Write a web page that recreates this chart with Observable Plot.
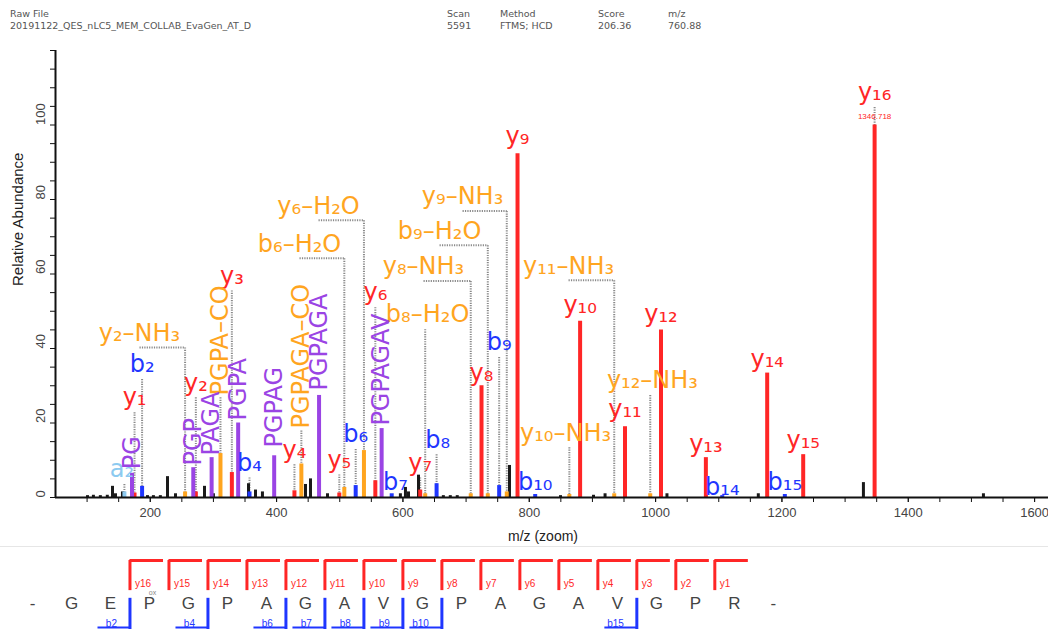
<!DOCTYPE html>
<html><head><meta charset="utf-8">
<script src="https://cdn.jsdelivr.net/npm/d3@7"></script>
<script src="https://cdn.jsdelivr.net/npm/@observablehq/plot@0.6"></script>
<style>
body{margin:0;background:#fff;}
#wrap{position:relative;width:1048px;height:629px;overflow:hidden;background:#fff;}
#wrap svg{display:block;}
.hdr{position:absolute;top:8px;font-family:"DejaVu Sans",sans-serif;font-size:9.5px;color:#555;line-height:12px;white-space:nowrap;}
.sep{position:absolute;left:0;top:546px;width:1048px;height:1px;background:#e6e6e6;}
</style></head><body><div id="wrap"></div>
<script>
// ---------- header ----------
const headerLabels = ["Raw File", "Scan", "Method", "Score", "m/z"];
const headerValues = ["20191122_QES_nLC5_MEM_COLLAB_EvaGen_AT_D", "5591", "FTMS; HCD", "206.36", "760.88"];

// ---------- y ions ----------
const yIonNames = ["y1","y2","y3","y4","y5","y6","y7","y8","y9","y10","y11","y12","y13","y14","y15","y16"];
const yIonMz    = [175.12,272.17,329.19,428.26,499.30,556.32,627.36,724.41,781.43,880.50,951.54,1008.56,1079.60,1176.65,1233.67,1346.72];
const yIonInt   = [1.2,1.5,6.7,1.8,1.2,4.5,2.0,30,92.3,47.3,19,45,10.7,33.4,11.5,100];
const yLabelInt = [24.7,28.7,57.4,10.7,8.0,52.9,7.2,31.4,95,49.4,21.7,47,12.3,34.9,13.2,106.6];

// ---------- b ions ----------
const bIonNames = ["b2","b4","b6","b7","b8","b9","b10","b14","b15"];
const bIonMz    = [187.07,357.14,525.23,582.25,653.29,752.36,809.38,1105.53,1204.60];
const bIonInt   = [3.0,1.5,3.2,1.0,3.7,3.2,0.8,0.5,0.8];
const bLabelInt = [33.6,7.2,14.8,1.9,13.4,39.5,1.9,0.8,1.9];
const bLabelMz  = [187.07,357.14,525.23,588,655,752.36,809.38,1105.53,1204.60];

// ---------- a ion ----------
const aIonNames = ["a2"];
const aIonMz = [159.08];
const aIonInt = [1.5];
const aLabelInt = [5.4];

// ---------- neutral losses ----------
const lossNames    = ["y2-NH3","b6-H2O","y6-H2O","b8-H2O","y8-NH3","b9-H2O","y9-NH3","y10-NH3","y11-NH3","y12-NH3"];
const lossMz       = [255.14,507.22,538.31,635.28,707.38,734.35,764.40,863.47,934.51,991.53];
const lossInt      = [1.5,2.7,12.6,1.0,1.0,1.0,1.5,0.8,1.0,1.0];
const lossLabelMz  = [183.0,436.3,466.4,639.0,632.6,658.0,694.4,857.4,862.2,995.0];
const lossLabelInt = [42.1,66.0,76.2,47.0,59.9,69.5,78.7,15.3,60.1,29.3];

// ---------- internal fragments (vertical labels) ----------
const internalNames    = ["PG","PGP","PAGA","PGPA","PGPAG","PGPAGA","PGPAGAV"];
const internalMz       = [171.08,268.13,297.16,339.17,396.19,467.23,566.30];
const internalInt      = [6.5,8.0,10.7,20.0,11.2,27.4,18.5];
const internalLabelInt = [7.6,8.6,11.3,20.7,13.4,28.7,19.3];

const internalLossNames    = ["PGPA-CO","PGPAGA-CO"];
const internalLossMz       = [311.17,439.23];
const internalLossInt      = [11.8,9.0];
const internalLossLabelInt = [27.4,18.5];

// ---------- unassigned peaks ----------
const otherMz  = [100.7,110,121,132,140.2,145,156,195.6,205,216,227.3,240,285.9,300,355.5,366.6,377.6,445.8,453.7,480.6,596,604,608.8,624.7,664,675,686,768.7,849.5,901.7,920,1018,1162.6,1329,1519];
const otherInt = [0.5,0.6,0.5,0.6,3.0,1.0,1.5,0.5,0.5,0.5,5.6,1.0,3.0,1.0,3.7,2.0,1.5,3.5,5.0,1.0,1.0,2.7,1.5,6.0,0.5,0.5,0.5,8.6,0.5,0.6,1.0,1.0,1.0,4.0,1.0];

const baseMz = 1346.718;

// ---------- sequence ----------
const residues = ["-","G","E","P","G","P","A","G","A","V","G","P","A","G","A","V","G","P","R","-"];
const seqYIons = [16,15,14,13,12,11,10,9,8,7,6,5,4,3,2,1];
const seqBIons = [2,4,6,7,8,9,10,15];
const modifiedResidue = 3; // hydroxyproline

// ---------- styles ----------
const COL = {y:"#ff2626", b:"#1f36ff", loss:"#ffa51f", int:"#9a44e4", a:"#8ccaf0", other:"#1a1a1a"};
const LABEL_FONT = "DejaVu Sans, sans-serif";
const SUBS = "₀₁₂₃₄₅₆₇₈₉";
const fmt = s => s.replace(/\d/g, c => SUBS[+c]).replace(/-/g, "–");

// ---------- build tables ----------
const ann = [];
yIonNames.forEach((n,i)=>ann.push({name:n, mz:yIonMz[i], int:yIonInt[i], lmz:yIonMz[i], lint:yLabelInt[i], type:"y", rot:false}));
bIonNames.forEach((n,i)=>ann.push({name:n, mz:bIonMz[i], int:bIonInt[i], lmz:bLabelMz[i], lint:bLabelInt[i], type:"b", rot:false}));
aIonNames.forEach((n,i)=>ann.push({name:n, mz:aIonMz[i], int:aIonInt[i], lmz:aIonMz[i]-4, lint:aLabelInt[i], type:"a", rot:false}));
lossNames.forEach((n,i)=>ann.push({name:n, mz:lossMz[i], int:lossInt[i], lmz:lossLabelMz[i], lint:lossLabelInt[i], type:"loss", rot:false}));
internalNames.forEach((n,i)=>ann.push({name:n, mz:internalMz[i], int:internalInt[i], lmz:internalMz[i], lint:internalLabelInt[i], type:"int", rot:true}));
internalLossNames.forEach((n,i)=>ann.push({name:n, mz:internalLossMz[i], int:internalLossInt[i], lmz:internalLossMz[i], lint:internalLossLabelInt[i], type:"loss", rot:true}));
const others = otherMz.map((m,i)=>({mz:m, int:otherInt[i]}));

const conn = [];
ann.forEach(a => {
  const top = a.rot ? a.lint - 0.5 : a.lint - 1.8;
  if (Math.abs(a.lmz - a.mz) > 10 && a.type === "loss") {
    conn.push({x1:a.lmz, x2:a.mz, y1:top, y2:top});
    conn.push({x1:a.mz, x2:a.mz, y1:top, y2:a.int});
  } else if (top - a.int > 2) {
    conn.push({x1:a.mz, x2:a.mz, y1:top, y2:a.int});
  }
});

const types = ["y","b","a","loss","int"];
const peakMarks = types.map(t => Plot.ruleX(ann.filter(a=>a.type===t), {x:"mz", y1:0, y2:"int", stroke:COL[t], strokeWidth:4}));
const labelMarks = types.flatMap(t => [
  Plot.text(ann.filter(a=>a.type===t && !a.rot), {x:"lmz", y:"lint", text:d=>fmt(d.name), fill:COL[t], fontSize:24, fontFamily:LABEL_FONT, textAnchor:"middle", lineAnchor:"bottom"}),
  Plot.text(ann.filter(a=>a.type===t && a.rot), {x:"lmz", y:"lint", text:d=>fmt(d.name), fill:COL[t], fontSize:24, fontFamily:LABEL_FONT, rotate:-90, textAnchor:"start", lineAnchor:"middle"})
]);

const main = Plot.plot({
  width:1048, height:548,
  marginLeft:55, marginRight:0, marginTop:50, marginBottom:51,
  style:{fontFamily:"Liberation Sans, Arial, sans-serif", fontSize:"13px", color:"#333", background:"#fff"},
  x:{domain:[50,1622]},
  y:{domain:[0,120]},
  marks:[
    Plot.link(conn, {x1:"x1", y1:"y1", x2:"x2", y2:"y2", stroke:"#8a8a8a", strokeWidth:2, strokeDasharray:"1.2,1.2"}),
    Plot.ruleX(others, {x:"mz", y1:0, y2:"int", stroke:COL.other, strokeWidth:3}),
    ...peakMarks,
    Plot.ruleY([0], {stroke:"#111", strokeWidth:2}),
    Plot.ruleX([50], {stroke:"#111", strokeWidth:2}),
    Plot.axisX({ticks:d3.range(100,1601,50), tickSize:5, text:null, label:null, stroke:"#111"}),
    Plot.axisX({ticks:d3.range(200,1601,200), tickSize:5, tickPadding:5, tickFormat:d=>String(d), label:null, fill:"#444", stroke:"#111"}),
    Plot.axisY({ticks:d3.range(0,121,5), tickSize:5, text:null, label:null, stroke:"#111"}),
    Plot.text(d3.range(0,101,20), {y:d=>d, frameAnchor:"left", dx:-15, rotate:-90, text:d=>String(d), fill:"#444", fontSize:13}),
    Plot.text(["Relative Abundance"], {frameAnchor:"left", dx:-37, dy:12, rotate:-90, text:d=>d, fill:"#222", fontSize:15}),
    Plot.text(["m/z (zoom)"], {frameAnchor:"bottom", dy:43, dx:-9, text:d=>d, fill:"#222", fontSize:14}),
    ...labelMarks,
    Plot.text([baseMz], {x:d=>d, y:101.5, text:d=>d.toFixed(3), fill:COL.y, fontSize:8, textAnchor:"middle", lineAnchor:"bottom"})
  ]
});

// ---------- sequence panel ----------
const yBreaks = seqYIons.map(n => ({n, pos:(residues.length - 1.5) - n}));
const bBreaks = seqBIons.map(n => ({n, pos:n + 0.5}));
const seq = Plot.plot({
  width:1048, height:81,
  marginLeft:32, marginRight:275.2, marginTop:0, marginBottom:0,
  style:{fontFamily:"Liberation Sans, Arial, sans-serif", background:"transparent"},
  x:{domain:[0, residues.length-1], axis:null},
  y:{domain:[0,1], reverse:true, axis:null},
  marks:[
    Plot.ruleX(yBreaks, {x:"pos", y1:0.148, y2:0.52, stroke:COL.y, strokeWidth:3}),
    Plot.ruleY(yBreaks, {y:0.148, x1:"pos", x2:d=>d.pos+0.86, stroke:COL.y, strokeWidth:3}),
    Plot.text(yBreaks, {x:"pos", y:0.43, text:d=>"y"+d.n, textAnchor:"start", dx:5, fill:COL.y, fontSize:10}),
    Plot.ruleX(bBreaks, {x:"pos", y1:0.615, y2:1, stroke:COL.b, strokeWidth:3}),
    Plot.ruleY(bBreaks, {y:0.975, x1:d=>d.pos-0.82, x2:"pos", stroke:COL.b, strokeWidth:2}),
    Plot.text(bBreaks, {x:"pos", y:0.93, text:d=>"b"+d.n, textAnchor:"end", dx:-13, fill:COL.b, fontSize:10}),
    Plot.text(residues, {x:(d,i)=>i, y:0.745, text:d=>d, fill:"#444", fontSize:17, textAnchor:"middle", lineAnchor:"bottom"}),
    Plot.text([modifiedResidue], {x:d=>d, y:0.57, dx:3, text:()=>"ox", fill:"#888", fontSize:7, textAnchor:"middle", lineAnchor:"bottom"})
  ]
});

const wrap = document.getElementById("wrap");
wrap.appendChild(main);
wrap.appendChild(seq);
const sep = document.createElement("div"); sep.className = "sep"; wrap.appendChild(sep);
const headerLeft = [10, 447, 500, 598, 668];
headerLabels.forEach((h,i) => {
  const d = document.createElement("div");
  d.className = "hdr";
  d.style.left = headerLeft[i] + "px";
  d.textContent = h;
  d.appendChild(document.createElement("br"));
  d.appendChild(document.createTextNode(headerValues[i]));
  wrap.appendChild(d);
});
</script></body></html>
